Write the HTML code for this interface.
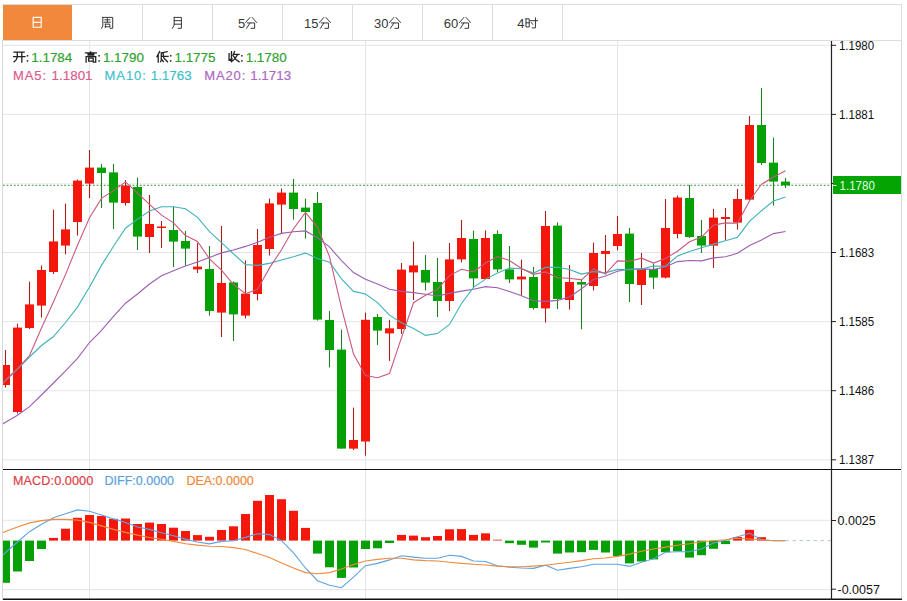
<!DOCTYPE html>
<html><head><meta charset="utf-8">
<style>
*{margin:0;padding:0;box-sizing:border-box}
html,body{width:907px;height:601px;overflow:hidden;background:#fff}
body{position:relative;font-family:"Liberation Sans",sans-serif}
.tb{position:absolute;left:2px;top:4px;width:900px;height:37px;border:1px solid #dcdcdc;border-left:none}
.on{position:absolute;left:3px;top:5px;width:69px;height:35px;background:#f0893b}
.dv{position:absolute;top:5px;width:1px;height:35px;background:#dcdcdc}
svg{position:absolute;left:0;top:0}
</style></head><body>
<div class="tb"></div>
<div class="on"></div>
<div class="dv" style="left:142px"></div>
<div class="dv" style="left:212px"></div>
<div class="dv" style="left:282px"></div>
<div class="dv" style="left:352px"></div>
<div class="dv" style="left:422px"></div>
<div class="dv" style="left:492px"></div>
<div class="dv" style="left:562px"></div>
<svg width="907" height="601" viewBox="0 0 907 601">
<defs><clipPath id="cm"><rect x="3" y="41" width="828" height="428"/></clipPath><clipPath id="cd"><rect x="3" y="470" width="828" height="129"/></clipPath></defs>
<line x1="3" y1="45.3" x2="831" y2="45.3" stroke="#e2e5ea" stroke-width="1"/>
<line x1="3" y1="114.4" x2="831" y2="114.4" stroke="#e2e5ea" stroke-width="1"/>
<line x1="3" y1="183.5" x2="831" y2="183.5" stroke="#eef3ee" stroke-width="1"/>
<line x1="3" y1="252.5" x2="831" y2="252.5" stroke="#e2e5ea" stroke-width="1"/>
<line x1="3" y1="321.6" x2="831" y2="321.6" stroke="#e2e5ea" stroke-width="1"/>
<line x1="3" y1="390.7" x2="831" y2="390.7" stroke="#e2e5ea" stroke-width="1"/>
<line x1="3" y1="459.8" x2="831" y2="459.8" stroke="#e2e5ea" stroke-width="1"/>
<line x1="3" y1="520.3" x2="831" y2="520.3" stroke="#e2e5ea" stroke-width="1"/>
<line x1="3" y1="589.6" x2="831" y2="589.6" stroke="#e2e5ea" stroke-width="1"/>
<line x1="89.5" y1="41" x2="89.5" y2="599" stroke="#e2e5ea" stroke-width="1"/>
<line x1="365.5" y1="41" x2="365.5" y2="599" stroke="#e2e5ea" stroke-width="1"/>
<line x1="617.5" y1="41" x2="617.5" y2="599" stroke="#e2e5ea" stroke-width="1"/>
<line x1="3" y1="185.3" x2="831" y2="185.3" stroke="#3a8a40" stroke-width="1.1" stroke-dasharray="1.8,1.8"/>
<g clip-path="url(#cm)">
<line x1="5.5" y1="350" x2="5.5" y2="387.6" stroke="#b01e18" stroke-width="1.1"/>
<rect x="1.0" y="365" width="9" height="20.0" fill="#f3170c"/>
<line x1="17.5" y1="323.6" x2="17.5" y2="413.6" stroke="#b01e18" stroke-width="1.1"/>
<rect x="13.0" y="327.6" width="9" height="84.4" fill="#f3170c"/>
<line x1="29.5" y1="281.6" x2="29.5" y2="329" stroke="#b01e18" stroke-width="1.1"/>
<rect x="25.0" y="304.4" width="9" height="23.6" fill="#f3170c"/>
<line x1="41.5" y1="265.4" x2="41.5" y2="317.6" stroke="#b01e18" stroke-width="1.1"/>
<rect x="37.0" y="270" width="9" height="35.6" fill="#f3170c"/>
<line x1="53.5" y1="209.6" x2="53.5" y2="274" stroke="#b01e18" stroke-width="1.1"/>
<rect x="49.0" y="241.4" width="9" height="30.6" fill="#f3170c"/>
<line x1="65.5" y1="203.6" x2="65.5" y2="254.4" stroke="#b01e18" stroke-width="1.1"/>
<rect x="61.0" y="229.4" width="9" height="16.2" fill="#f3170c"/>
<line x1="77.5" y1="179.6" x2="77.5" y2="235.6" stroke="#b01e18" stroke-width="1.1"/>
<rect x="73.0" y="180.6" width="9" height="41.4" fill="#f3170c"/>
<line x1="89.5" y1="150" x2="89.5" y2="198" stroke="#b01e18" stroke-width="1.1"/>
<rect x="85.0" y="167.6" width="9" height="16.0" fill="#f3170c"/>
<line x1="101.5" y1="164" x2="101.5" y2="208" stroke="#237f23" stroke-width="1.1"/>
<rect x="97.0" y="167.6" width="9" height="5.4" fill="#05a005"/>
<line x1="113.5" y1="164" x2="113.5" y2="229" stroke="#237f23" stroke-width="1.1"/>
<rect x="109.0" y="172.4" width="9" height="30.2" fill="#05a005"/>
<line x1="125.5" y1="180" x2="125.5" y2="205.6" stroke="#b01e18" stroke-width="1.1"/>
<rect x="121.0" y="185.6" width="9" height="17.4" fill="#f3170c"/>
<line x1="137.5" y1="177.6" x2="137.5" y2="250" stroke="#237f23" stroke-width="1.1"/>
<rect x="133.0" y="187" width="9" height="49.6" fill="#05a005"/>
<line x1="149.5" y1="195" x2="149.5" y2="253" stroke="#b01e18" stroke-width="1.1"/>
<rect x="145.0" y="224" width="9" height="13.0" fill="#f3170c"/>
<line x1="161.5" y1="221" x2="161.5" y2="248" stroke="#b01e18" stroke-width="1.1"/>
<rect x="157.0" y="226.5" width="9" height="1.5" fill="#f3170c"/>
<line x1="173.5" y1="206.4" x2="173.5" y2="267" stroke="#237f23" stroke-width="1.1"/>
<rect x="169.0" y="230" width="9" height="11.6" fill="#05a005"/>
<line x1="185.5" y1="231" x2="185.5" y2="265.6" stroke="#237f23" stroke-width="1.1"/>
<rect x="181.0" y="241" width="9" height="7.6" fill="#05a005"/>
<line x1="197.5" y1="243" x2="197.5" y2="273" stroke="#b01e18" stroke-width="1.1"/>
<rect x="193.0" y="266.6" width="9" height="2.8" fill="#f3170c"/>
<line x1="209.5" y1="246" x2="209.5" y2="315.6" stroke="#237f23" stroke-width="1.1"/>
<rect x="205.0" y="269" width="9" height="42.0" fill="#05a005"/>
<line x1="221.5" y1="226" x2="221.5" y2="337" stroke="#b01e18" stroke-width="1.1"/>
<rect x="217.0" y="283" width="9" height="29.6" fill="#f3170c"/>
<line x1="233.5" y1="281.4" x2="233.5" y2="341" stroke="#237f23" stroke-width="1.1"/>
<rect x="229.0" y="282.4" width="9" height="32.0" fill="#05a005"/>
<line x1="245.5" y1="260.4" x2="245.5" y2="318.4" stroke="#b01e18" stroke-width="1.1"/>
<rect x="241.0" y="293.6" width="9" height="22.0" fill="#f3170c"/>
<line x1="257.5" y1="229" x2="257.5" y2="300.4" stroke="#b01e18" stroke-width="1.1"/>
<rect x="253.0" y="245" width="9" height="49.0" fill="#f3170c"/>
<line x1="269.5" y1="198.6" x2="269.5" y2="255.6" stroke="#b01e18" stroke-width="1.1"/>
<rect x="265.0" y="203.4" width="9" height="45.6" fill="#f3170c"/>
<line x1="281.5" y1="188.4" x2="281.5" y2="233" stroke="#b01e18" stroke-width="1.1"/>
<rect x="277.0" y="192.6" width="9" height="12.0" fill="#f3170c"/>
<line x1="293.5" y1="179" x2="293.5" y2="219.6" stroke="#237f23" stroke-width="1.1"/>
<rect x="289.0" y="192.6" width="9" height="16.4" fill="#05a005"/>
<line x1="305.5" y1="198.6" x2="305.5" y2="238.6" stroke="#237f23" stroke-width="1.1"/>
<rect x="301.0" y="207.6" width="9" height="4.4" fill="#05a005"/>
<line x1="317.5" y1="192" x2="317.5" y2="320.6" stroke="#237f23" stroke-width="1.1"/>
<rect x="313.0" y="203" width="9" height="116.6" fill="#05a005"/>
<line x1="329.5" y1="311" x2="329.5" y2="367.4" stroke="#237f23" stroke-width="1.1"/>
<rect x="325.0" y="320" width="9" height="30.0" fill="#05a005"/>
<line x1="341.5" y1="329.6" x2="341.5" y2="448.6" stroke="#237f23" stroke-width="1.1"/>
<rect x="337.0" y="349.6" width="9" height="99.0" fill="#05a005"/>
<line x1="353.5" y1="407.6" x2="353.5" y2="450" stroke="#b01e18" stroke-width="1.1"/>
<rect x="349.0" y="440" width="9" height="8.6" fill="#f3170c"/>
<line x1="365.5" y1="312.7" x2="365.5" y2="455.7" stroke="#b01e18" stroke-width="1.1"/>
<rect x="361.0" y="319.8" width="9" height="121.7" fill="#f3170c"/>
<line x1="377.5" y1="314" x2="377.5" y2="345" stroke="#237f23" stroke-width="1.1"/>
<rect x="373.0" y="317" width="9" height="13.6" fill="#05a005"/>
<line x1="389.5" y1="319.8" x2="389.5" y2="360.9" stroke="#b01e18" stroke-width="1.1"/>
<rect x="385.0" y="328.3" width="9" height="5.1" fill="#f3170c"/>
<line x1="401.5" y1="263" x2="401.5" y2="334" stroke="#b01e18" stroke-width="1.1"/>
<rect x="397.0" y="269.6" width="9" height="59.4" fill="#f3170c"/>
<line x1="413.5" y1="241.6" x2="413.5" y2="300" stroke="#b01e18" stroke-width="1.1"/>
<rect x="409.0" y="265.4" width="9" height="7.0" fill="#f3170c"/>
<line x1="425.5" y1="255" x2="425.5" y2="290.4" stroke="#237f23" stroke-width="1.1"/>
<rect x="421.0" y="270" width="9" height="12.6" fill="#05a005"/>
<line x1="437.5" y1="258" x2="437.5" y2="317" stroke="#237f23" stroke-width="1.1"/>
<rect x="433.0" y="282" width="9" height="19.0" fill="#05a005"/>
<line x1="449.5" y1="243" x2="449.5" y2="311" stroke="#b01e18" stroke-width="1.1"/>
<rect x="445.0" y="259.4" width="9" height="41.6" fill="#f3170c"/>
<line x1="461.5" y1="220" x2="461.5" y2="262.4" stroke="#b01e18" stroke-width="1.1"/>
<rect x="457.0" y="238" width="9" height="21.4" fill="#f3170c"/>
<line x1="473.5" y1="230.6" x2="473.5" y2="287" stroke="#237f23" stroke-width="1.1"/>
<rect x="469.0" y="239" width="9" height="39.4" fill="#05a005"/>
<line x1="485.5" y1="230.4" x2="485.5" y2="279" stroke="#b01e18" stroke-width="1.1"/>
<rect x="481.0" y="238" width="9" height="41.0" fill="#f3170c"/>
<line x1="497.5" y1="230.4" x2="497.5" y2="272" stroke="#237f23" stroke-width="1.1"/>
<rect x="493.0" y="234" width="9" height="35.4" fill="#05a005"/>
<line x1="509.5" y1="246" x2="509.5" y2="283" stroke="#237f23" stroke-width="1.1"/>
<rect x="505.0" y="269.4" width="9" height="10.0" fill="#05a005"/>
<line x1="521.5" y1="259.6" x2="521.5" y2="295" stroke="#b01e18" stroke-width="1.1"/>
<rect x="517.0" y="276.6" width="9" height="2.8" fill="#f3170c"/>
<line x1="533.5" y1="267" x2="533.5" y2="309.6" stroke="#237f23" stroke-width="1.1"/>
<rect x="529.0" y="277" width="9" height="31.0" fill="#05a005"/>
<line x1="545.5" y1="211" x2="545.5" y2="322.6" stroke="#b01e18" stroke-width="1.1"/>
<rect x="541.0" y="226" width="9" height="82.4" fill="#f3170c"/>
<line x1="557.5" y1="222.4" x2="557.5" y2="309" stroke="#237f23" stroke-width="1.1"/>
<rect x="553.0" y="225.6" width="9" height="73.4" fill="#05a005"/>
<line x1="569.5" y1="265" x2="569.5" y2="309.6" stroke="#b01e18" stroke-width="1.1"/>
<rect x="565.0" y="282" width="9" height="18.0" fill="#f3170c"/>
<line x1="581.5" y1="280" x2="581.5" y2="329.2" stroke="#237f23" stroke-width="1.1"/>
<rect x="577.0" y="282" width="9" height="2.6" fill="#05a005"/>
<line x1="593.5" y1="242.6" x2="593.5" y2="290.4" stroke="#b01e18" stroke-width="1.1"/>
<rect x="589.0" y="253" width="9" height="33.0" fill="#f3170c"/>
<line x1="605.5" y1="235" x2="605.5" y2="274.4" stroke="#b01e18" stroke-width="1.1"/>
<rect x="601.0" y="251" width="9" height="3.0" fill="#f3170c"/>
<line x1="617.5" y1="216" x2="617.5" y2="250.4" stroke="#b01e18" stroke-width="1.1"/>
<rect x="613.0" y="234" width="9" height="12.0" fill="#f3170c"/>
<line x1="629.5" y1="228" x2="629.5" y2="302" stroke="#237f23" stroke-width="1.1"/>
<rect x="625.0" y="233.6" width="9" height="50.4" fill="#05a005"/>
<line x1="641.5" y1="253" x2="641.5" y2="305" stroke="#b01e18" stroke-width="1.1"/>
<rect x="637.0" y="269" width="9" height="16.0" fill="#f3170c"/>
<line x1="653.5" y1="263.6" x2="653.5" y2="289" stroke="#237f23" stroke-width="1.1"/>
<rect x="649.0" y="269" width="9" height="8.6" fill="#05a005"/>
<line x1="665.5" y1="199" x2="665.5" y2="278.4" stroke="#b01e18" stroke-width="1.1"/>
<rect x="661.0" y="228" width="9" height="49.6" fill="#f3170c"/>
<line x1="677.5" y1="195.6" x2="677.5" y2="238.4" stroke="#b01e18" stroke-width="1.1"/>
<rect x="673.0" y="197.5" width="9" height="36.5" fill="#f3170c"/>
<line x1="689.5" y1="185" x2="689.5" y2="238" stroke="#237f23" stroke-width="1.1"/>
<rect x="685.0" y="198" width="9" height="39.0" fill="#05a005"/>
<line x1="701.5" y1="220" x2="701.5" y2="253" stroke="#237f23" stroke-width="1.1"/>
<rect x="697.0" y="236" width="9" height="9.6" fill="#05a005"/>
<line x1="713.5" y1="209" x2="713.5" y2="268" stroke="#b01e18" stroke-width="1.1"/>
<rect x="709.0" y="217.6" width="9" height="28.0" fill="#f3170c"/>
<line x1="725.5" y1="208" x2="725.5" y2="240" stroke="#b01e18" stroke-width="1.1"/>
<rect x="721.0" y="217" width="9" height="2.0" fill="#f3170c"/>
<line x1="737.5" y1="189" x2="737.5" y2="229.6" stroke="#b01e18" stroke-width="1.1"/>
<rect x="733.0" y="199" width="9" height="23.6" fill="#f3170c"/>
<line x1="749.5" y1="116" x2="749.5" y2="200" stroke="#b01e18" stroke-width="1.1"/>
<rect x="745.0" y="125" width="9" height="74.6" fill="#f3170c"/>
<line x1="761.5" y1="88" x2="761.5" y2="165" stroke="#237f23" stroke-width="1.1"/>
<rect x="757.0" y="125" width="9" height="38.0" fill="#05a005"/>
<line x1="773.5" y1="137.6" x2="773.5" y2="205.6" stroke="#237f23" stroke-width="1.1"/>
<rect x="769.0" y="162.6" width="9" height="19.0" fill="#05a005"/>
<line x1="785.5" y1="178" x2="785.5" y2="188" stroke="#237f23" stroke-width="1.1"/>
<rect x="781.0" y="181.6" width="9" height="3.8" fill="#05a005"/>
<polyline points="-6.5,429.3 5.5,422.3 17.5,415.3 29.5,406.7 41.5,395.0 53.5,383.0 65.5,370.8 77.5,358.3 89.5,342.5 101.5,330.3 113.5,316.4 125.5,303.2 137.5,294.0 149.5,284.0 161.5,275.7 173.5,270.7 185.5,266.0 197.5,262.0 209.5,257.4 221.5,252.9 233.5,250.0 245.5,246.4 257.5,242.3 269.5,237.2 281.5,233.4 293.5,231.7 305.5,230.9 317.5,237.8 329.5,246.9 341.5,260.7 353.5,272.6 365.5,279.3 377.5,284.0 389.5,289.2 401.5,291.4 413.5,292.6 425.5,294.3 437.5,296.0 449.5,293.4 461.5,291.1 473.5,289.3 485.5,286.6 497.5,287.8 509.5,291.6 521.5,295.8 533.5,300.7 545.5,301.4 557.5,300.4 569.5,297.0 581.5,288.8 593.5,279.5 605.5,276.0 617.5,271.2 629.5,269.0 641.5,268.9 653.5,269.6 665.5,266.8 677.5,261.6 689.5,260.5 701.5,260.9 713.5,257.9 725.5,256.8 737.5,253.3 749.5,245.6 761.5,239.9 773.5,233.6 785.5,231.5" fill="none" stroke="#9e5eb0" stroke-width="1.1"/>
<polyline points="-6.5,392.0 5.5,380.5 17.5,369.0 29.5,357.0 41.5,345.5 53.5,336.5 65.5,322.5 77.5,307.1 89.5,287.0 101.5,265.4 113.5,246.2 125.5,228.2 137.5,219.1 149.5,211.1 161.5,206.7 173.5,206.8 185.5,208.7 197.5,217.3 209.5,231.6 221.5,242.6 233.5,253.8 245.5,264.6 257.5,265.4 269.5,263.4 281.5,260.0 293.5,256.7 305.5,253.1 317.5,258.4 329.5,262.3 341.5,278.8 353.5,291.4 365.5,294.0 377.5,302.6 389.5,315.1 401.5,322.8 413.5,328.4 425.5,335.4 437.5,333.6 449.5,324.5 461.5,303.5 473.5,287.3 485.5,279.1 497.5,273.0 509.5,268.1 521.5,268.8 533.5,273.1 545.5,267.4 557.5,267.2 569.5,269.5 581.5,274.1 593.5,271.6 605.5,272.9 617.5,269.4 629.5,269.8 641.5,269.1 653.5,266.0 665.5,266.2 677.5,256.1 689.5,251.6 701.5,247.7 713.5,244.1 725.5,240.7 737.5,237.2 749.5,221.3 761.5,210.7 773.5,201.1 785.5,196.9" fill="none" stroke="#3fb2b8" stroke-width="1.1"/>
<polyline points="-6.5,392.5 5.5,380.5 17.5,368.5 29.5,355.5 41.5,328.0 53.5,301.7 65.5,274.6 77.5,245.2 89.5,217.8 101.5,198.4 113.5,190.6 125.5,181.9 137.5,193.1 149.5,204.4 161.5,215.1 173.5,222.9 185.5,235.5 197.5,241.5 209.5,258.9 221.5,270.2 233.5,284.7 245.5,293.7 257.5,289.4 269.5,267.9 281.5,249.8 293.5,228.7 305.5,212.4 317.5,227.3 329.5,256.6 341.5,307.8 353.5,354.0 365.5,375.6 377.5,377.8 389.5,373.5 401.5,337.7 413.5,302.7 425.5,295.3 437.5,289.4 449.5,275.6 461.5,269.3 473.5,271.9 485.5,263.0 497.5,256.6 509.5,260.6 521.5,268.4 533.5,274.3 545.5,271.9 557.5,277.8 569.5,278.3 581.5,279.9 593.5,268.9 605.5,273.9 617.5,260.9 629.5,261.3 641.5,258.2 653.5,263.1 665.5,258.5 677.5,251.2 689.5,241.8 701.5,237.1 713.5,225.1 725.5,222.9 737.5,223.2 749.5,200.8 761.5,184.3 773.5,177.1 785.5,170.8" fill="none" stroke="#c85a7c" stroke-width="1.1"/>
</g>
<g clip-path="url(#cd)">
<rect x="1.0" y="540.6" width="9" height="42.2" fill="#05a005"/>
<rect x="13.0" y="540.6" width="9" height="30.9" fill="#05a005"/>
<rect x="25.0" y="540.6" width="9" height="20.4" fill="#05a005"/>
<rect x="37.0" y="540.6" width="9" height="8.4" fill="#05a005"/>
<rect x="49.0" y="537.9" width="9" height="2.7" fill="#f3170c"/>
<rect x="61.0" y="528.7" width="9" height="11.9" fill="#f3170c"/>
<rect x="73.0" y="517.8" width="9" height="22.8" fill="#f3170c"/>
<rect x="85.0" y="515" width="9" height="25.6" fill="#f3170c"/>
<rect x="97.0" y="515.9" width="9" height="24.7" fill="#f3170c"/>
<rect x="109.0" y="518.9" width="9" height="21.7" fill="#f3170c"/>
<rect x="121.0" y="518.5" width="9" height="22.1" fill="#f3170c"/>
<rect x="133.0" y="524" width="9" height="16.6" fill="#f3170c"/>
<rect x="145.0" y="522.6" width="9" height="18.0" fill="#f3170c"/>
<rect x="157.0" y="524" width="9" height="16.6" fill="#f3170c"/>
<rect x="169.0" y="527.7" width="9" height="12.9" fill="#f3170c"/>
<rect x="181.0" y="531" width="9" height="9.6" fill="#f3170c"/>
<rect x="193.0" y="535.1" width="9" height="5.5" fill="#f3170c"/>
<rect x="205.0" y="536.8" width="9" height="3.8" fill="#f3170c"/>
<rect x="217.0" y="530" width="9" height="10.6" fill="#f3170c"/>
<rect x="229.0" y="526.3" width="9" height="14.3" fill="#f3170c"/>
<rect x="241.0" y="514" width="9" height="26.6" fill="#f3170c"/>
<rect x="253.0" y="500.8" width="9" height="39.8" fill="#f3170c"/>
<rect x="265.0" y="495" width="9" height="45.6" fill="#f3170c"/>
<rect x="277.0" y="499.2" width="9" height="41.4" fill="#f3170c"/>
<rect x="289.0" y="510.8" width="9" height="29.8" fill="#f3170c"/>
<rect x="301.0" y="527.9" width="9" height="12.7" fill="#f3170c"/>
<rect x="313.0" y="540.6" width="9" height="13.0" fill="#05a005"/>
<rect x="325.0" y="540.6" width="9" height="26.7" fill="#05a005"/>
<rect x="337.0" y="540.6" width="9" height="37.3" fill="#05a005"/>
<rect x="349.0" y="540.6" width="9" height="26.9" fill="#05a005"/>
<rect x="361.0" y="540.6" width="9" height="8.4" fill="#05a005"/>
<rect x="373.0" y="540.6" width="9" height="7.7" fill="#05a005"/>
<rect x="385.0" y="540.6" width="9" height="2.4" fill="#05a005"/>
<rect x="397.0" y="534.9" width="9" height="5.7" fill="#f3170c"/>
<rect x="409.0" y="535.6" width="9" height="5.0" fill="#f3170c"/>
<rect x="421.0" y="537.2" width="9" height="3.4" fill="#f3170c"/>
<rect x="433.0" y="536" width="9" height="4.6" fill="#f3170c"/>
<rect x="445.0" y="529.3" width="9" height="11.3" fill="#f3170c"/>
<rect x="457.0" y="529.1" width="9" height="11.5" fill="#f3170c"/>
<rect x="469.0" y="534.9" width="9" height="5.7" fill="#f3170c"/>
<rect x="481.0" y="533.3" width="9" height="7.3" fill="#f3170c"/>
<rect x="493.0" y="539.6" width="9" height="1" fill="#e8503a"/>
<rect x="505.0" y="540.6" width="9" height="2.6" fill="#05a005"/>
<rect x="517.0" y="540.6" width="9" height="4.2" fill="#05a005"/>
<rect x="529.0" y="540.6" width="9" height="7.0" fill="#05a005"/>
<rect x="541.0" y="540.6" width="9" height="1.9" fill="#05a005"/>
<rect x="553.0" y="540.6" width="9" height="13.0" fill="#05a005"/>
<rect x="565.0" y="540.6" width="9" height="11.9" fill="#05a005"/>
<rect x="577.0" y="540.6" width="9" height="11.6" fill="#05a005"/>
<rect x="589.0" y="540.6" width="9" height="9.3" fill="#05a005"/>
<rect x="601.0" y="540.6" width="9" height="11.9" fill="#05a005"/>
<rect x="613.0" y="540.6" width="9" height="15.4" fill="#05a005"/>
<rect x="625.0" y="540.6" width="9" height="22.8" fill="#05a005"/>
<rect x="637.0" y="540.6" width="9" height="20.9" fill="#05a005"/>
<rect x="649.0" y="540.6" width="9" height="18.8" fill="#05a005"/>
<rect x="661.0" y="540.6" width="9" height="11.6" fill="#05a005"/>
<rect x="673.0" y="540.6" width="9" height="10.7" fill="#05a005"/>
<rect x="685.0" y="540.6" width="9" height="17.0" fill="#05a005"/>
<rect x="697.0" y="540.6" width="9" height="14.6" fill="#05a005"/>
<rect x="709.0" y="540.6" width="9" height="8.2" fill="#05a005"/>
<rect x="721.0" y="540.6" width="9" height="3.5" fill="#05a005"/>
<rect x="733.0" y="537" width="9" height="3.6" fill="#f3170c"/>
<rect x="745.0" y="529.8" width="9" height="10.8" fill="#f3170c"/>
<rect x="757.0" y="537.2" width="9" height="3.4" fill="#f3170c"/>
<polyline points="-6.5,563.0 5.5,552.5 17.5,542.0 29.5,531.7 41.5,524.3 53.5,517.8 65.5,513.8 77.5,509.9 89.5,511.3 101.5,515.0 113.5,518.9 125.5,522.4 137.5,527.0 149.5,529.4 161.5,532.8 173.5,535.8 185.5,539.1 197.5,542.0 209.5,543.9 221.5,541.4 233.5,540.7 245.5,537.4 257.5,533.7 269.5,534.6 281.5,540.7 293.5,552.9 305.5,568.0 317.5,580.7 329.5,585.3 341.5,587.7 353.5,577.2 365.5,565.7 377.5,563.4 389.5,559.9 401.5,555.7 413.5,557.1 425.5,558.3 437.5,558.3 449.5,555.2 461.5,556.4 473.5,561.0 485.5,561.5 497.5,565.7 509.5,567.3 521.5,568.0 533.5,568.4 545.5,565.2 557.5,570.3 569.5,568.4 581.5,566.8 593.5,564.3 605.5,564.3 617.5,564.3 629.5,566.4 641.5,562.2 653.5,558.7 665.5,552.2 677.5,551.8 689.5,551.8 701.5,549.0 713.5,543.0 725.5,540.2 737.5,536.7 749.5,533.3 761.5,539.7 773.5,540.7 785.5,540.7" fill="none" stroke="#5fa2e0" stroke-width="1.1"/>
<polyline points="-6.5,536.2 5.5,531.6 17.5,527.0 29.5,522.9 41.5,520.6 53.5,519.4 65.5,519.4 77.5,520.1 89.5,522.4 101.5,525.9 113.5,529.4 125.5,532.4 137.5,535.1 149.5,537.5 161.5,539.3 173.5,541.4 185.5,543.7 197.5,545.1 209.5,546.2 221.5,546.5 233.5,547.6 245.5,549.5 257.5,553.6 269.5,557.6 281.5,562.9 293.5,568.0 305.5,572.6 317.5,573.8 329.5,572.6 341.5,569.1 353.5,564.5 365.5,561.0 377.5,559.4 389.5,558.3 401.5,558.2 413.5,559.9 425.5,560.6 437.5,561.0 449.5,562.2 461.5,563.4 473.5,564.3 485.5,565.0 497.5,566.1 509.5,566.8 521.5,566.8 533.5,566.1 545.5,565.2 557.5,563.8 569.5,562.2 581.5,560.6 593.5,558.7 605.5,558.0 617.5,556.4 629.5,554.1 641.5,551.3 653.5,549.0 665.5,547.1 677.5,545.3 689.5,543.7 701.5,541.8 713.5,540.7 725.5,539.7 737.5,538.3 749.5,539.0 761.5,539.7 773.5,540.7 785.5,540.7" fill="none" stroke="#f08a3c" stroke-width="1.1"/>
</g>
<line x1="785.5" y1="540.6" x2="831" y2="540.6" stroke="#b9c8d2" stroke-width="1" stroke-dasharray="3.5,3.5"/>
<line x1="3" y1="469.5" x2="902" y2="469.5" stroke="#111" stroke-width="1.2"/>
<line x1="3" y1="599.3" x2="902" y2="599.3" stroke="#111" stroke-width="1.4"/>
<line x1="831.5" y1="41" x2="831.5" y2="600" stroke="#222" stroke-width="1.2"/>
<line x1="2.5" y1="41" x2="2.5" y2="600" stroke="#d8d8d8" stroke-width="1"/>
<line x1="901.5" y1="41" x2="901.5" y2="598" stroke="#d8d8d8" stroke-width="1"/>
<line x1="831" y1="45.3" x2="836" y2="45.3" stroke="#222" stroke-width="1"/>
<text x="838.9" y="49.9" font-family="Liberation Sans" font-size="12.8" fill="#111" textLength="35.2" lengthAdjust="spacingAndGlyphs">1.1980</text>
<line x1="831" y1="114.4" x2="836" y2="114.4" stroke="#222" stroke-width="1"/>
<text x="838.9" y="119.0" font-family="Liberation Sans" font-size="12.8" fill="#111" textLength="35.2" lengthAdjust="spacingAndGlyphs">1.1881</text>
<line x1="831" y1="183.5" x2="836" y2="183.5" stroke="#222" stroke-width="1"/>
<line x1="831" y1="252.5" x2="836" y2="252.5" stroke="#222" stroke-width="1"/>
<text x="838.9" y="257.1" font-family="Liberation Sans" font-size="12.8" fill="#111" textLength="35.2" lengthAdjust="spacingAndGlyphs">1.1683</text>
<line x1="831" y1="321.6" x2="836" y2="321.6" stroke="#222" stroke-width="1"/>
<text x="838.9" y="326.2" font-family="Liberation Sans" font-size="12.8" fill="#111" textLength="35.2" lengthAdjust="spacingAndGlyphs">1.1585</text>
<line x1="831" y1="390.7" x2="836" y2="390.7" stroke="#222" stroke-width="1"/>
<text x="838.9" y="395.3" font-family="Liberation Sans" font-size="12.8" fill="#111" textLength="35.2" lengthAdjust="spacingAndGlyphs">1.1486</text>
<line x1="831" y1="459.8" x2="836" y2="459.8" stroke="#222" stroke-width="1"/>
<text x="838.9" y="464.4" font-family="Liberation Sans" font-size="12.8" fill="#111" textLength="35.2" lengthAdjust="spacingAndGlyphs">1.1387</text>
<rect x="833" y="176" width="68" height="18" fill="#03a503"/>
<line x1="833" y1="185.5" x2="836.5" y2="185.5" stroke="#e8ffe8" stroke-width="1"/>
<text x="839.6" y="189.9" font-family="Liberation Sans" font-size="12.8" fill="#e4ffe4" textLength="35.2" lengthAdjust="spacingAndGlyphs">1.1780</text>
<line x1="831" y1="520.5" x2="836" y2="520.5" stroke="#222" stroke-width="1"/>
<text x="837.5" y="525.0" font-family="Liberation Sans" font-size="12.5" fill="#111">0.0025</text>
<line x1="831" y1="589.2" x2="836" y2="589.2" stroke="#222" stroke-width="1"/>
<text x="837.5" y="593.7" font-family="Liberation Sans" font-size="12.5" fill="#111">-0.0057</text>
<path d="M33.18,17.38L41.22,17.38L41.22,27.23L33.18,27.23L33.18,17.38M33.18,22.30L41.22,22.30" fill="none" stroke="#fff" stroke-width="1.15" stroke-linecap="square" stroke-linejoin="miter"/>
<path d="M102.82,17.40L102.82,25.90L101.60,28.30M102.82,17.40L112.70,17.40L112.70,28.30L110.26,28.30M104.93,19.80L109.92,19.80M107.37,18.71L107.37,22.20M104.26,22.20L110.48,22.20M105.37,24.16L105.37,27.43M105.37,24.16L109.81,24.16L109.81,26.77M105.37,26.77L109.81,26.77" fill="none" stroke="#383838" stroke-width="1.0" stroke-linecap="square" stroke-linejoin="miter"/>
<path d="M174.20,17.40L174.20,25.25L172.40,28.30M174.20,17.40L181.40,17.40L181.40,28.30L178.25,28.30M174.20,20.67L181.40,20.67M174.20,24.16L181.40,24.16" fill="none" stroke="#383838" stroke-width="1.0" stroke-linecap="square" stroke-linejoin="miter"/>
<text x="238.0" y="27.8" font-family="Liberation Sans" font-size="13" fill="#383838"  >5</text>
<path d="M249.84,17.60L245.70,22.41M252.24,17.60L256.60,22.41M247.55,22.95L254.64,22.95L254.64,28.30L251.15,28.30M250.06,22.95L246.57,28.30" fill="none" stroke="#383838" stroke-width="1.0" stroke-linecap="square" stroke-linejoin="miter"/>
<text x="304.0" y="27.8" font-family="Liberation Sans" font-size="13" fill="#383838"  >15</text>
<path d="M323.64,17.60L319.50,22.41M326.04,17.60L330.40,22.41M321.35,22.95L328.44,22.95L328.44,28.30L324.95,28.30M323.86,22.95L320.37,28.30" fill="none" stroke="#383838" stroke-width="1.0" stroke-linecap="square" stroke-linejoin="miter"/>
<text x="374.0" y="27.8" font-family="Liberation Sans" font-size="13" fill="#383838"  >30</text>
<path d="M393.74,17.60L389.60,22.41M396.14,17.60L400.50,22.41M391.45,22.95L398.54,22.95L398.54,28.30L395.05,28.30M393.96,22.95L390.47,28.30" fill="none" stroke="#383838" stroke-width="1.0" stroke-linecap="square" stroke-linejoin="miter"/>
<text x="443.8" y="27.8" font-family="Liberation Sans" font-size="13" fill="#383838"  >60</text>
<path d="M463.74,17.60L459.60,22.41M466.14,17.60L470.50,22.41M461.45,22.95L468.54,22.95L468.54,28.30L465.05,28.30M463.96,22.95L460.47,28.30" fill="none" stroke="#383838" stroke-width="1.0" stroke-linecap="square" stroke-linejoin="miter"/>
<text x="517.3" y="27.8" font-family="Liberation Sans" font-size="13" fill="#383838"  >4</text>
<path d="M526.00,18.83L529.22,18.83L529.22,26.96L526.00,26.96L526.00,18.83M526.00,22.84L529.22,22.84M530.37,20.68L537.50,20.68M535.43,17.90L535.43,27.89L532.33,27.89M531.40,22.54L532.67,24.29" fill="none" stroke="#383838" stroke-width="1.0" stroke-linecap="square" stroke-linejoin="miter"/>
<path d="M13.99,52.07L24.16,52.07M13.65,56.54L24.95,56.54M17.27,52.07L17.27,57.37L16.14,59.97L14.10,61.74M21.79,52.07L21.79,62.05" fill="none" stroke="#222" stroke-width="1.3" stroke-linecap="square" stroke-linejoin="miter"/>
<rect x="26.75" y="55.05" width="1.5" height="1.5" fill="#222"/><rect x="26.75" y="60.15" width="1.5" height="1.5" fill="#222"/>
<text x="31.3" y="61.8" font-family="Liberation Sans" font-size="13.4" fill="#2fa12f" stroke="#2fa12f" stroke-width="0.18" >1.1784</text>
<path d="M90.68,51.85L90.68,52.87M85.45,52.87L96.35,52.87M88.07,53.89L93.73,53.89L93.73,55.11L88.07,55.11L88.07,53.89M86.10,62.05L86.10,56.64L95.70,56.64L95.70,62.05L93.30,62.05M88.61,58.17L93.19,58.17L93.19,61.03L88.61,61.03L88.61,58.17" fill="none" stroke="#222" stroke-width="1.3" stroke-linecap="square" stroke-linejoin="miter"/>
<rect x="98.35" y="55.05" width="1.5" height="1.5" fill="#222"/><rect x="98.35" y="60.15" width="1.5" height="1.5" fill="#222"/>
<text x="102.9" y="61.8" font-family="Liberation Sans" font-size="13.4" fill="#2fa12f" stroke="#2fa12f" stroke-width="0.18" >1.1790</text>
<path d="M159.57,51.65L156.98,56.64M158.22,54.77L158.22,62.05M167.15,51.65L161.27,52.90M161.27,52.90L161.27,60.18L160.59,61.74M161.27,56.43L168.05,56.43M163.08,52.90L163.76,57.89L167.48,61.74M162.40,60.18L163.30,61.53" fill="none" stroke="#222" stroke-width="1.3" stroke-linecap="square" stroke-linejoin="miter"/>
<rect x="169.95" y="55.05" width="1.5" height="1.5" fill="#222"/><rect x="169.95" y="60.15" width="1.5" height="1.5" fill="#222"/>
<text x="174.5" y="61.8" font-family="Liberation Sans" font-size="13.4" fill="#2fa12f" stroke="#2fa12f" stroke-width="0.18" >1.1775</text>
<path d="M229.07,53.73L229.07,59.97L232.08,58.93M231.46,51.65L231.46,61.53M234.47,51.65L233.02,55.60M233.23,54.46L239.05,54.46M237.49,54.77L234.89,58.93L231.35,61.74M233.85,56.64L235.93,59.45L239.05,61.74" fill="none" stroke="#222" stroke-width="1.3" stroke-linecap="square" stroke-linejoin="miter"/>
<rect x="241.15" y="55.05" width="1.5" height="1.5" fill="#222"/><rect x="241.15" y="60.15" width="1.5" height="1.5" fill="#222"/>
<text x="245.7" y="61.8" font-family="Liberation Sans" font-size="13.4" fill="#2fa12f" stroke="#2fa12f" stroke-width="0.18" >1.1780</text>
<text x="13.0" y="79.7" font-family="Liberation Sans" font-size="13" fill="#dc5a8c" stroke="#dc5a8c" stroke-width="0.18" letter-spacing="0.9">MA5:</text>
<text x="51.6" y="79.7" font-family="Liberation Sans" font-size="13.4" fill="#dc5a8c" stroke="#dc5a8c" stroke-width="0.18" >1.1801</text>
<text x="104.6" y="79.7" font-family="Liberation Sans" font-size="13" fill="#3fbfca" stroke="#3fbfca" stroke-width="0.18" letter-spacing="0.9">MA10:</text>
<text x="150.7" y="79.7" font-family="Liberation Sans" font-size="13.4" fill="#3fbfca" stroke="#3fbfca" stroke-width="0.18" >1.1763</text>
<text x="204.2" y="79.7" font-family="Liberation Sans" font-size="13" fill="#ad66c2" stroke="#ad66c2" stroke-width="0.18" letter-spacing="0.9">MA20:</text>
<text x="250.2" y="79.7" font-family="Liberation Sans" font-size="13.4" fill="#ad66c2" stroke="#ad66c2" stroke-width="0.18" >1.1713</text>
<text x="13.0" y="484.6" font-family="Liberation Sans" font-size="12.5" fill="#dc3c46" stroke="#dc3c46" stroke-width="0.18" letter-spacing="0.15">MACD:</text>
<text x="54.2" y="484.6" font-family="Liberation Sans" font-size="12.8" fill="#dc3c46" stroke="#dc3c46" stroke-width="0.18" >0.0000</text>
<text x="104.6" y="484.6" font-family="Liberation Sans" font-size="12.5" fill="#5a9fe0" stroke="#5a9fe0" stroke-width="0.18" >DIFF:0.0000</text>
<text x="186.4" y="484.6" font-family="Liberation Sans" font-size="12.5" fill="#f0883a" stroke="#f0883a" stroke-width="0.18" >DEA:0.0000</text>
</svg>
</body></html>
